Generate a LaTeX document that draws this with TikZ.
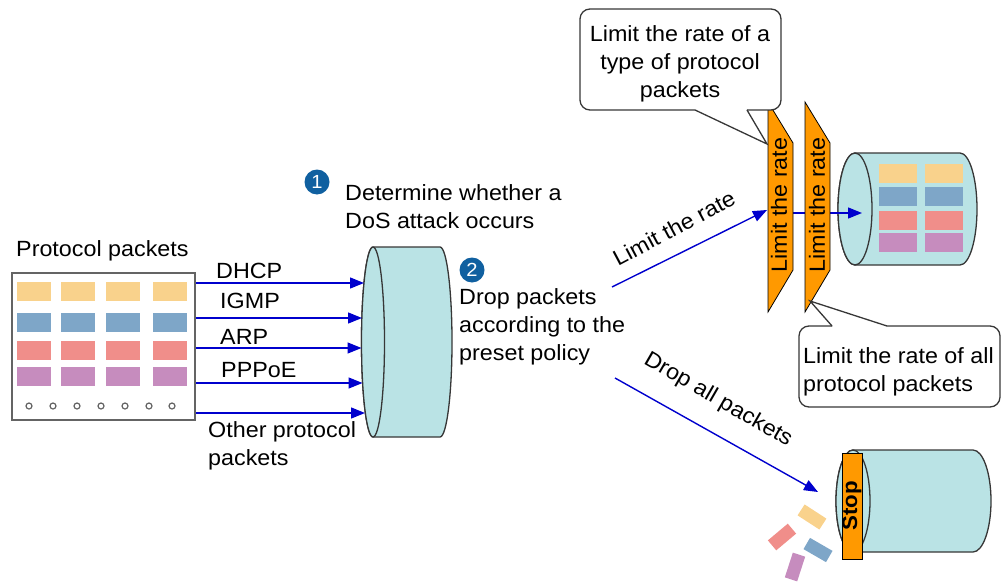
\documentclass[tikz,border=0pt]{standalone}
\usepackage{fontspec}
\setmainfont[FakeStretch=1.06]{Liberation Sans}
\usepackage{xcolor}
\usetikzlibrary{arrows.meta,positioning}

\definecolor{pktorange}{RGB}{249,210,140}
\definecolor{pktblue}{RGB}{126,166,200}
\definecolor{pktred}{RGB}{240,142,138}
\definecolor{pktpurple}{RGB}{198,140,190}
\definecolor{drumcyan}{RGB}{186,227,229}
\definecolor{gateorange}{RGB}{255,153,0}
\definecolor{flowblue}{RGB}{0,0,205}
\definecolor{badgeblue}{RGB}{16,96,160}
\definecolor{edgegray}{RGB}{55,55,55}
\definecolor{boxgray}{RGB}{100,100,100}

\tikzset{
  flow/.style={flowblue, line width=1.4pt, -{Triangle[length=14pt,width=11pt]}},
  drum/.style={fill=drumcyan, draw=edgegray, line width=1.3pt},
  gate/.style={fill=gateorange, draw=black, line width=0.8pt},
  bubble/.style={draw=edgegray, line width=1.3pt, rounded corners=10pt, fill=white},
  badge/.style={circle, fill=badgeblue, text=white, inner sep=0pt, minimum size=25pt, font=\fontsize{19}{19}\selectfont},
  lbl/.style={inner sep=0pt, font=\fontsize{22}{28}\selectfont},
  chip/.style={inner sep=0pt, minimum width=26pt, minimum height=13pt}
}

\begin{document}
\begin{tikzpicture}[x=1pt, y=-1pt]
    \useasboundingbox (0,0) rectangle (1003,583);

    \coordinate (C1face) at (373,342);
    \coordinate (C2face) at (855,209);
    \coordinate (C3face) at (853,501);

    \coordinate (C1in1) at (364,283);
    \coordinate (C1in2) at (362,318);
    \coordinate (C1in3) at (361.5,348);
    \coordinate (C1in4) at (362.5,383);
    \coordinate (C1in5) at (365,413);

    \coordinate (rateout) at (612,287);
    \coordinate (G1in) at (767,210);
    \coordinate (G1out) at (793,213);
    \coordinate (C2in) at (862,213);
    \coordinate (dropout) at (615,378);
    \coordinate (stopin) at (818,492);
    \coordinate (G1tip) at (767,144);
    \coordinate (G2tip) at (810,301);

    % protocol packets on the left
    \node[lbl, anchor=base west] (pkttitle) at (16,256) {Protocol packets};
    \node[draw=boxgray, line width=2pt, minimum width=183pt, minimum height=147pt, inner sep=0pt] (pktbox) at (103.5,346.5) {};
    \foreach \c/\y in {pktorange/282, pktblue/313, pktred/341, pktpurple/367}
      \foreach \x in {17,61,106,153}
        \fill[\c] (\x,\y) rectangle ++(34,19);
    \foreach \x in {29,53,77,101,125,149,172}
      \draw[boxgray, line width=1.2pt, fill=white] (\x,406) circle[radius=3];

    % first drum
    \draw[drum] (373,247) -- (440,247) arc[start angle=-90, end angle=90, x radius=12, y radius=95]
      -- (373,437) arc[start angle=90, end angle=270, x radius=11.5, y radius=95] -- cycle;
    \draw[drum] (C1face) ellipse[x radius=11.5, y radius=95];

    \draw[flow] (pktbox.east |- C1in1) -- (C1in1);
    \draw[flow] (pktbox.east |- C1in2) -- (C1in2);
    \draw[flow] (pktbox.east |- C1in3) -- (C1in3);
    \draw[flow] (pktbox.east |- C1in4) -- (C1in4);
    \draw[flow] (pktbox.east |- C1in5) -- (C1in5);

    \node[lbl, anchor=base west] (dhcp) at (216,278) {DHCP};
    \node[lbl, anchor=base west] (igmp) at (220,308) {IGMP};
    \node[lbl, anchor=base west] (arp) at (220,344) {ARP};
    \node[lbl, anchor=base west] (pppoe) at (221,377) {PPPoE};
    % multi-line texts sit on the baseline of their last line
    \node[lbl, anchor=base west, align=left] (other) at (208,465) {Other protocol\\packets};

    \node[badge] (step1) at (317,182) {1};
    \node[lbl, anchor=base west, align=left] (detect) at (345,228) {Determine whether a\\DoS attack occurs};
    \node[badge] (step2) at (472,270) {2};
    \node[lbl, anchor=base west, align=left] (policy) at (459,360) {Drop packets\\according to the\\preset policy};

    % rate limit branch
    \draw[flow] (rateout) -- (G1in);
    \node[lbl, rotate=28] (ratelbl) at (674,228) {Limit the rate};

    \draw[drum] (855,153) -- (960,153) arc[start angle=-90, end angle=90, x radius=17, y radius=56]
      -- (855,265) arc[start angle=90, end angle=270, x radius=17, y radius=56] -- cycle;
    \draw[drum] (C2face) ellipse[x radius=17, y radius=56];
    \foreach \c/\y in {pktorange/164, pktblue/187, pktred/211, pktpurple/233}
      \foreach \x in {879,925}
        \fill[\c] (\x,\y) rectangle ++(38,19);

    \draw[flow] (G1out) -- (C2in);

    \draw[gate] (768,102) -- (793,143) -- (793,270) -- (768,312) -- cycle;
    \node[lbl, rotate=90] (gate1) at (779,205) {Limit the rate};
    \draw[gate] (805,102) -- (830,143) -- (830,270) -- (805,312) -- cycle;
    \node[lbl, rotate=90] (gate2) at (817,205) {Limit the rate};

    \node[bubble, minimum width=201pt, minimum height=101pt] (typebubble) at (680.5,59.5) {};
    \fill[white] (696,108) -- (746,108) -- (747,110) -- (G1tip) -- (695,110) -- cycle;
    \draw[edgegray, line width=1.3pt] (695,110) -- (G1tip) -- (747,110);
    \node[lbl, anchor=base, align=center] (typetxt) at (680,98) {Limit the rate of a\\type of protocol\\packets};

    \node[bubble, minimum width=201pt, minimum height=81pt] (allbubble) at (899.5,366.5) {};
    \fill[white] (833,327.5) -- (886,327.5) -- (887,326) -- (G2tip) -- (832,326) -- cycle;
    \draw[edgegray, line width=1.3pt] (832,326) -- (G2tip) -- (887,326);
    \node[lbl, anchor=base west, align=left] (alltxt) at (803,391) {Limit the rate of all\\protocol packets};

    % drop branch
    \draw[flow] (dropout) -- (stopin);
    \node[lbl, rotate=-30] (droplbl) at (718,400) {Drop all packets};

    \draw[drum] (853,450) -- (973,450) arc[start angle=-90, end angle=90, x radius=18, y radius=51]
      -- (853,552) arc[start angle=90, end angle=270, x radius=17, y radius=51] -- cycle;
    \draw[drum] (C3face) ellipse[x radius=17, y radius=51];
    \node[gate, rotate=90, minimum width=106pt, minimum height=20pt, inner sep=0pt, font=\fontsize{21}{21}\selectfont\bfseries] (stopbar) at (852,506) {Stop};

    \node[chip, fill=pktorange, rotate=-33] (chip1) at (812,517) {};
    \node[chip, fill=pktred, rotate=40] (chip2) at (782,537) {};
    \node[chip, fill=pktblue, rotate=-30] (chip3) at (818,550) {};
    \node[chip, fill=pktpurple, rotate=72] (chip4) at (795,567) {};
\end{tikzpicture}
\end{document}
